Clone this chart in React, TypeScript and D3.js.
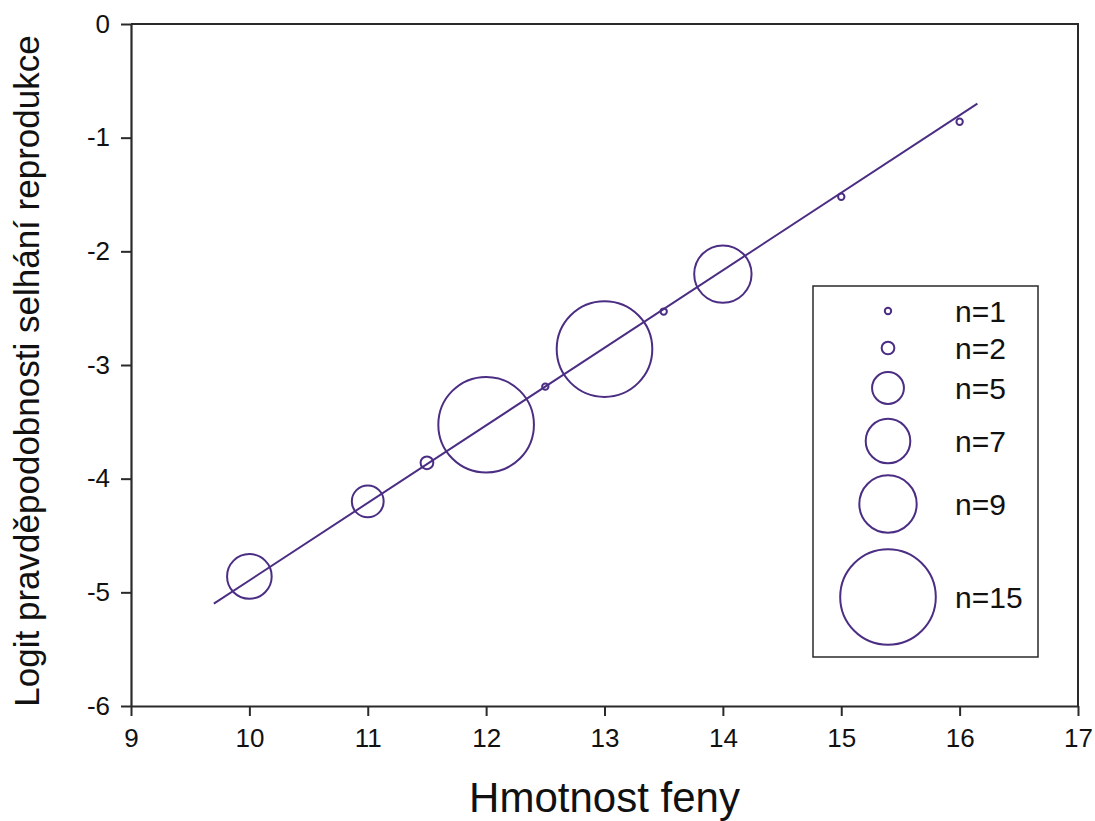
import React, { useEffect, useRef } from 'react';
import * as d3 from 'd3';

// rozměry a okraje grafu
const W = 1095;
const H = 821;
const margin = { top: 24, right: 17, bottom: 115, left: 131 };
const innerW = W - margin.left - margin.right;
const innerH = H - margin.top - margin.bottom;

// data
const weights = [10, 11, 11.5, 12, 12.5, 13, 13.5, 14, 15, 16];
const logits = [-4.86, -4.2, -3.86, -3.525, -3.19, -2.86, -2.53, -2.2, -1.52, -0.86];
const counts = [7, 5, 2, 15, 1, 15, 1, 9, 1, 1];

// regresní přímka (koncové body)
const fitX = [9.7, 16.15];
const fitY = [-5.1, -0.7];

// legenda
const legendN = [1, 2, 5, 7, 9, 15];
const legendLabels = ['n=1', 'n=2', 'n=5', 'n=7', 'n=9', 'n=15'];
const legendRowY = [311, 348, 388, 441, 504, 597];

const xTicks = [9, 10, 11, 12, 13, 14, 15, 16, 17];
const yTicks = [0, -1, -2, -3, -4, -5, -6];

const purple = '#4b2e83';
const axisColor = '#2a2a2a';
const font = '"Liberation Sans", Arial, sans-serif';

const App = () => {
    const svgRef = useRef(null);

    useEffect(() => {
        const svg = d3.select(svgRef.current);
        svg.selectAll('*').remove();

        const x = d3.scaleLinear().domain([9, 17]).range([0, innerW]);
        const y = d3.scaleLinear().domain([-6, 0]).range([innerH, 0]);
        const r = d3.scaleLinear().domain([0, 15]).range([0, 47.8]);

        const g = svg.append('g')
            .attr('transform', `translate(${margin.left},${margin.top})`);

        // rám (horní a pravá strana)
        g.append('path')
            .attr('d', `M0,0H${innerW}V${innerH}`)
            .attr('fill', 'none')
            .attr('stroke', axisColor)
            .attr('stroke-width', 2);

        // osa X
        const gx = g.append('g')
            .attr('transform', `translate(0,${innerH})`)
            .call(d3.axisBottom(x).tickValues(xTicks).tickSize(10).tickSizeOuter(0).tickPadding(13).tickFormat(d => String(d)));
        gx.select('.domain').attr('stroke', axisColor).attr('stroke-width', 2.2);
        gx.selectAll('.tick line').attr('stroke', axisColor).attr('stroke-width', 2);
        gx.selectAll('text')
            .style('font-family', font)
            .style('font-size', '26px')
            .attr('fill', '#111');

        // osa Y
        const gy = g.append('g')
            .call(d3.axisLeft(y).tickValues(yTicks).tickSize(10).tickSizeOuter(0).tickPadding(11).tickFormat(d => String(d)));
        gy.select('.domain').attr('stroke', axisColor).attr('stroke-width', 2.2);
        gy.selectAll('.tick line').attr('stroke', axisColor).attr('stroke-width', 2);
        gy.selectAll('text')
            .style('font-family', font)
            .style('font-size', '26px')
            .attr('fill', '#111');

        // regresní přímka
        const line = d3.line().x(d => x(d[0])).y(d => y(d[1]));
        g.append('path')
            .datum(d3.zip(fitX, fitY))
            .attr('d', line)
            .attr('fill', 'none')
            .attr('stroke', purple)
            .attr('stroke-width', 2);

        // body (kruhy o velikosti podle n)
        g.append('g')
            .selectAll('circle')
            .data(weights.map((w, i) => ({ w, v: logits[i], n: counts[i] })))
            .join('circle')
            .attr('cx', d => x(d.w))
            .attr('cy', d => y(d.v))
            .attr('r', d => r(d.n))
            .attr('fill', 'none')
            .attr('stroke', purple)
            .attr('stroke-width', 2);

        // legenda
        const lg = svg.append('g');
        lg.append('rect')
            .attr('x', 813)
            .attr('y', 286)
            .attr('width', 225)
            .attr('height', 371)
            .attr('fill', 'white')
            .attr('stroke', axisColor)
            .attr('stroke-width', 1.5);
        legendN.forEach((n, i) => {
            lg.append('circle')
                .attr('cx', 888)
                .attr('cy', legendRowY[i])
                .attr('r', r(n))
                .attr('fill', 'none')
                .attr('stroke', purple)
                .attr('stroke-width', 2);
            lg.append('text')
                .attr('x', 955)
                .attr('y', legendRowY[i])
                .attr('dy', '0.36em')
                .style('font-family', font)
                .style('font-size', '30px')
                .attr('fill', '#111')
                .text(legendLabels[i]);
        });

        // popisky os
        svg.append('text')
            .attr('x', margin.left + innerW / 2)
            .attr('y', 812)
            .attr('text-anchor', 'middle')
            .style('font-family', font)
            .style('font-size', '42px')
            .attr('fill', '#111')
            .text('Hmotnost feny');

        svg.append('text')
            .attr('transform', `translate(39,${margin.top + innerH / 2 + 6}) rotate(-90)`)
            .attr('text-anchor', 'middle')
            .style('font-family', font)
            .style('font-size', '35px')
            .attr('fill', '#111')
            .text('Logit pravděpodobnosti selhání reprodukce');
    }, []);

    return (
        <svg ref={svgRef} width={W} height={H}
            style={{ position: 'absolute', left: 0, top: 0, background: 'white' }}></svg>
    );
};

export default App;
